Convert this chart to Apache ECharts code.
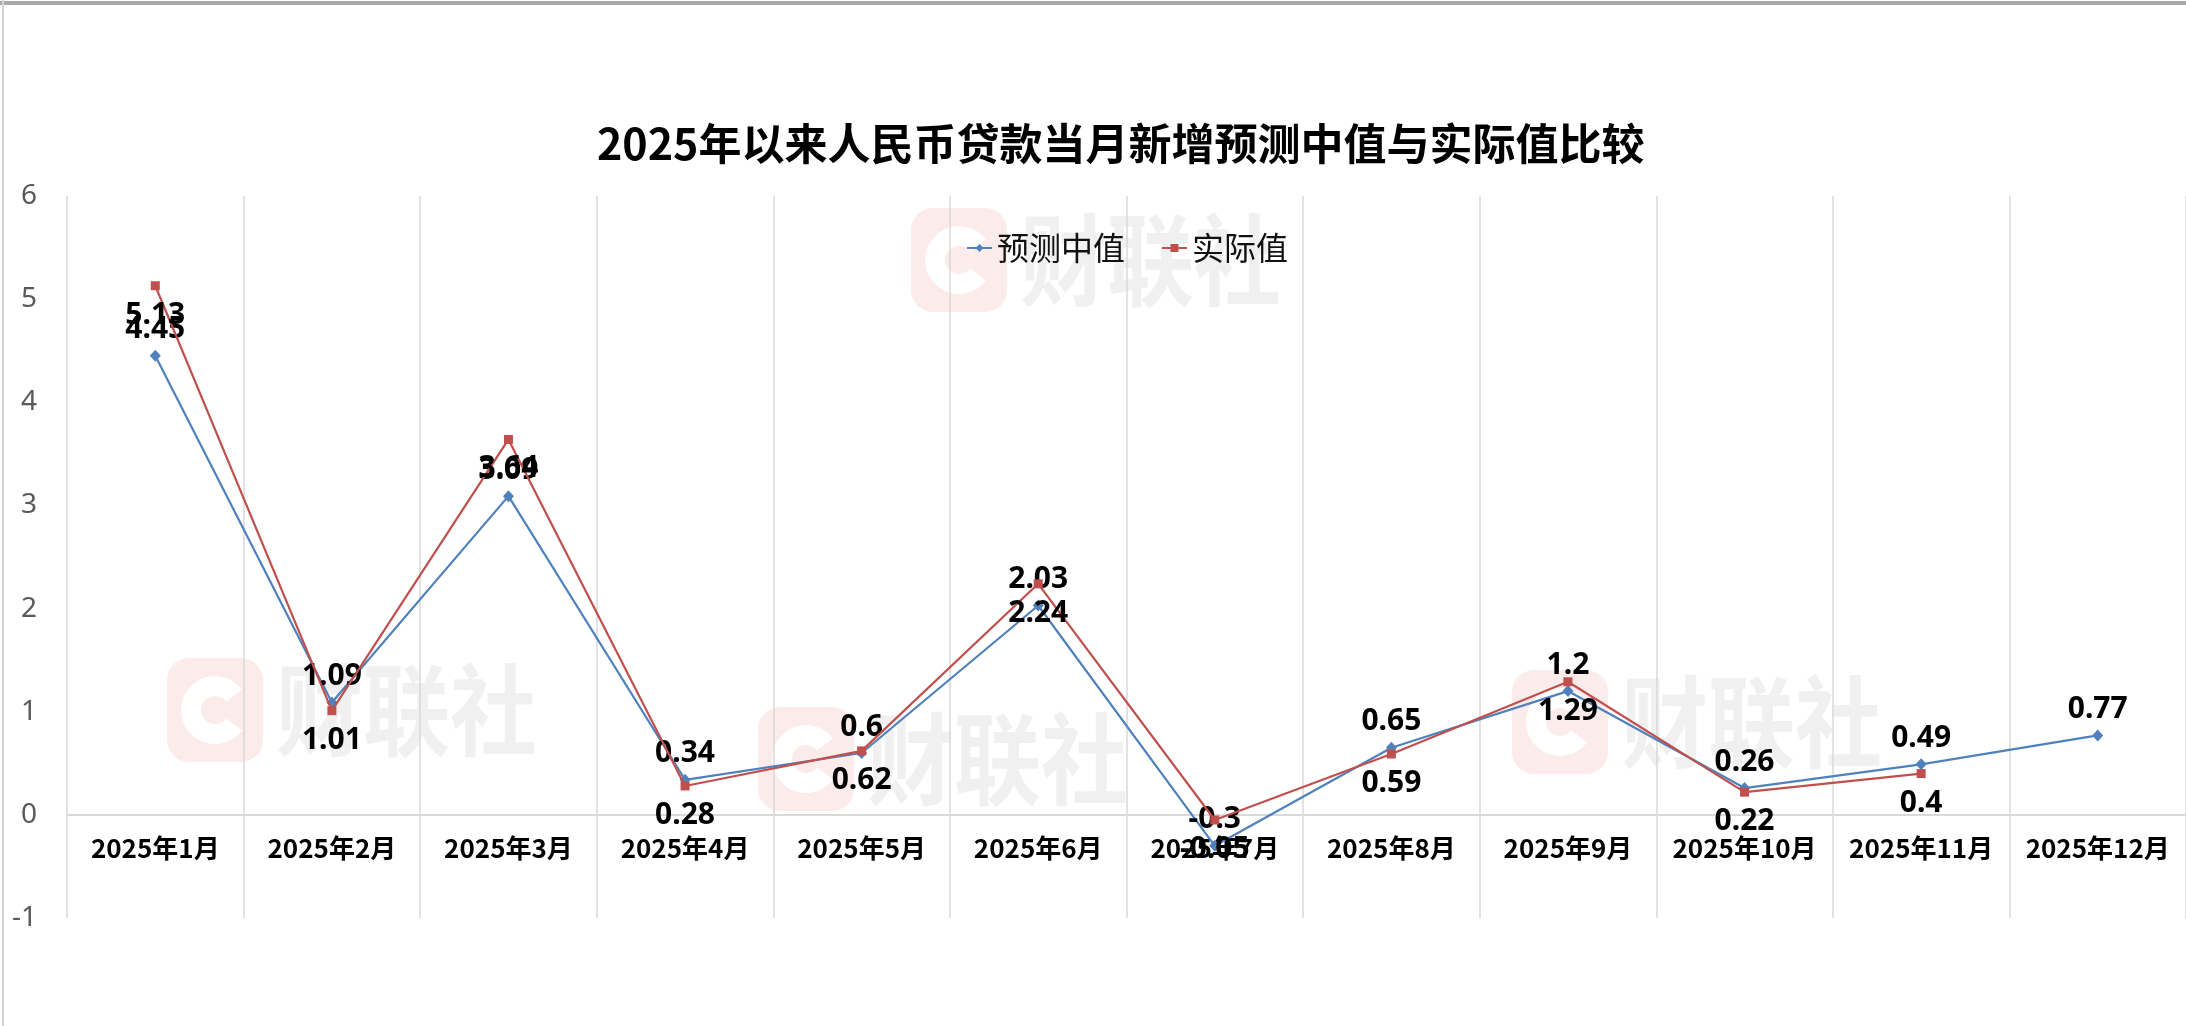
<!DOCTYPE html>
<html>
<head>
<meta charset="utf-8">
<script src="https://cdn.jsdelivr.net/npm/echarts@6/dist/echarts.min.js"></script>
<style>
html,body{margin:0;padding:0;background:#ffffff;}
#chart{width:2186px;height:1026px;}
</style>
</head>
<body>
<div id="chart"></div>
<script>
const categories = ['2025年1月','2025年2月','2025年3月','2025年4月','2025年5月','2025年6月','2025年7月','2025年8月','2025年9月','2025年10月','2025年11月','2025年12月'];
const forecastMedian = [4.45, 1.09, 3.09, 0.34, 0.6, 2.03, -0.3, 0.65, 1.2, 0.26, 0.49, 0.77];
const actualValue = [5.13, 1.01, 3.64, 0.28, 0.62, 2.24, -0.05, 0.59, 1.29, 0.22, 0.4, null];
const seriesNames = ['预测中值', '实际值'];
const yMin = -1, yMax = 6, yInterval = 1;
const titleText = '2025年以来人民币贷款当月新增预测中值与实际值比较';
const watermarkText = '财联社';

const gridTop = 196, gridBottom = 108, chartH = 1026;
const unitPx = (chartH - gridTop - gridBottom) / (yMax - yMin);
const zeroOffset = -unitPx * (0 - yMin);

const wmAnchors = [[911,208],[167,658],[758,707],[1512,670]];
const wmElements = [];
wmAnchors.forEach(function(a){
  wmElements.push({type:'rect', z:-10, silent:true, shape:{x:a[0], y:a[1], width:96, height:104, r:22}, style:{fill:'#fcebeb'}});
  wmElements.push({type:'arc', z:-9, silent:true, shape:{cx:a[0]+48, cy:a[1]+52, r:24, startAngle:0.65, endAngle:Math.PI*2-0.65, clockwise:true}, style:{stroke:'#ffffff', lineWidth:20, fill:null}});
  wmElements.push({type:'text', z:-9, silent:true, x:a[0]+109, y:a[1]+2, scaleX:0.87, style:{text:watermarkText, font:'bold 100px "Noto Sans CJK SC"', fill:'#f0f0f0', verticalAlign:'top', align:'left'}});
});
wmElements.push({type:'line', z:-8, silent:true, shape:{x1:0, y1:3, x2:2186, y2:3}, style:{stroke:'#a8a8a8', lineWidth:4}});
wmElements.push({type:'line', z:-8, silent:true, shape:{x1:3, y1:0, x2:3, y2:1026}, style:{stroke:'#d4d4d4', lineWidth:2}});

const chart = echarts.init(document.getElementById('chart'), null, {renderer:'canvas'});
chart.setOption({
  backgroundColor:'#ffffff',
  animation:false,
  color:['#4F81BD','#C0504D'],
  title:{
    text:titleText,
    left:597,
    top:122,
    padding:0,
    textStyle:{fontSize:43, fontWeight:'bold', color:'#000000', fontFamily:'"Noto Sans CJK SC", "Noto Sans", sans-serif'}
  },
  legend:{
    data:seriesNames,
    left:966,
    top:232,
    padding:0,
    itemWidth:25,
    itemHeight:10,
    itemGap:36,
    textStyle:{fontSize:32, color:'#111111', fontFamily:'"Noto Sans CJK SC", sans-serif'}
  },
  graphic:{elements:wmElements},
  grid:{left:67, right:0, top:gridTop, bottom:gridBottom, containLabel:false},
  xAxis:{
    type:'category',
    data:categories,
    boundaryGap:true,
    position:'bottom',
    offset:zeroOffset,
    axisLine:{show:true, onZero:false, lineStyle:{color:'#d9d9d9', width:2}},
    axisTick:{show:false},
    axisLabel:{interval:0, margin:20, fontSize:26, fontWeight:'bold', color:'#000000', fontFamily:'"Noto Sans CJK SC", sans-serif'},
    splitLine:{show:true, interval:0, lineStyle:{color:'#d9d9d9', width:1.5}}
  },
  yAxis:{
    type:'value',
    min:yMin, max:yMax, interval:yInterval,
    axisLine:{show:false},
    axisTick:{show:false},
    splitLine:{show:false},
    axisLabel:{margin:30, fontSize:28, color:'#595959', fontFamily:'"Noto Sans", sans-serif'}
  },
  series:[
    {
      name:seriesNames[0], type:'line', data:forecastMedian,
      symbol:'diamond', symbolSize:[11,12], showAllSymbol:true,
      lineStyle:{width:2.2, color:'#4F81BD'}, itemStyle:{color:'#4F81BD'},
      label:{show:true, position:'top', distance:5, fontSize:30, fontWeight:'bold', color:'#000000', fontFamily:'"Noto Sans", sans-serif'},
      z:3
    },
    {
      name:seriesNames[1], type:'line', data:actualValue,
      symbol:'rect', symbolSize:9, showAllSymbol:true,
      connectNulls:false,
      lineStyle:{width:2.2, color:'#C0504D'}, itemStyle:{color:'#C0504D'},
      label:{show:true, position:'bottom', distance:10, fontSize:30, fontWeight:'bold', color:'#000000', fontFamily:'"Noto Sans", sans-serif'},
      z:4
    }
  ]
});
</script>
</body>
</html>
